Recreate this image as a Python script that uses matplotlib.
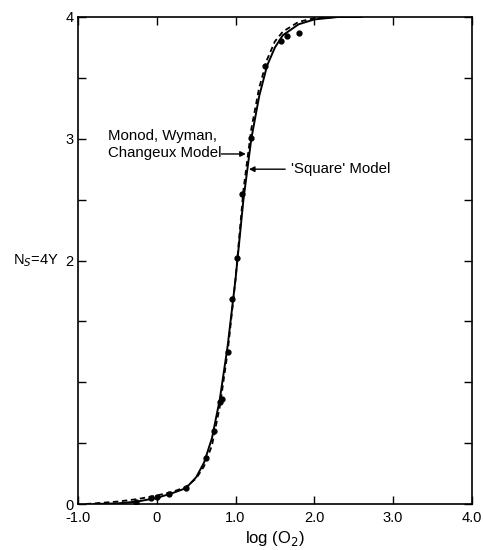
import matplotlib.pyplot as plt

plt.rcParams["font.family"] = ["Liberation Sans", "DejaVu Sans"]

# measured points
obs_x = [-0.27, -0.07, 0.0, 0.16, 0.37, 0.63, 0.73, 0.80, 0.83, 0.90, 0.96, 1.02,
         1.08, 1.20, 1.37, 1.58, 1.65, 1.80]
obs_y = [0.02, 0.05, 0.06, 0.08, 0.13, 0.38, 0.60, 0.84, 0.86, 1.25, 1.68, 2.02,
         2.55, 3.01, 3.60, 3.80, 3.84, 3.87]

# 'Square' model (solid)
sq_x = [-0.8, -0.5, -0.25, 0.0, 0.2, 0.37, 0.5, 0.6, 0.7, 0.8, 0.9, 1.0, 1.1,
        1.2, 1.3, 1.4, 1.5, 1.6, 1.8, 2.0, 2.3, 2.6]
sq_y = [0.0, 0.005, 0.02, 0.05, 0.09, 0.13, 0.22, 0.34, 0.54, 0.86, 1.3, 1.85, 2.5,
        3.0, 3.35, 3.6, 3.75, 3.85, 3.94, 3.98, 4.0, 4.0]

# Monod, Wyman, Changeux model (dashed)
mwc_x = [-0.9, -0.5, -0.25, 0.0, 0.2, 0.37, 0.5, 0.6, 0.7, 0.8, 0.9, 1.0, 1.1,
         1.2, 1.3, 1.4, 1.5, 1.6, 1.8, 2.0, 2.3]
mwc_y = [0.0, 0.02, 0.04, 0.07, 0.1, 0.14, 0.21, 0.31, 0.48, 0.8, 1.25, 1.85, 2.58,
         3.08, 3.42, 3.65, 3.8, 3.88, 3.96, 3.99, 4.0]

xticks = [-1, 0, 1, 2, 3, 4]
xlabels = ["-1.0", "0", "1.0", "2.0", "3.0", "4.0"]
yticks = [0, 0.5, 1, 1.5, 2, 2.5, 3, 3.5, 4]
ylabels = ["0", "", "", "", "2", "", "3", "", "4"]

fig = plt.figure(figsize=(4.83, 5.5), dpi=100)
ax = fig.add_axes([0.1615, 0.0836, 0.8155, 0.8855])

ax.plot(sq_x, sq_y, color="black", lw=1.4)
ax.plot(mwc_x, mwc_y, color="black", lw=1.3, ls=(0, (3, 2)))
ax.plot(obs_x, obs_y, "o", color="black", ms=3.5)

ax.set_xlim(-1, 4)
ax.set_ylim(0, 4)
ax.set_xticks(xticks)
ax.set_xticklabels(xlabels)
ax.set_yticks(yticks)
ax.set_yticklabels(ylabels)
ax.tick_params(direction="in", length=6, width=1, top=True, right=True,
               labelsize=10.5, pad=5)
ax.tick_params(axis="y", pad=3)
for s in ax.spines.values():
    s.set_linewidth(1.2)

ax.set_xlabel("log (O$_2$)", fontsize=12, labelpad=3)
ax.text(-0.048, 0.5, "N$_S$=4Y", transform=ax.transAxes, ha="right", va="center",
        fontsize=10.5)

ax.text(-0.62, 2.95, "Monod, Wyman,\nChangeux Model", ha="left", va="center",
        fontsize=10.8, linespacing=1.25)
ax.annotate("", xy=(1.13, 2.875), xytext=(0.82, 2.875),
            arrowprops=dict(arrowstyle="-|>", color="black", lw=1, mutation_scale=8,
                            shrinkA=0, shrinkB=0))
ax.annotate("", xy=(1.17, 2.75), xytext=(1.63, 2.75),
            arrowprops=dict(arrowstyle="-|>", color="black", lw=1, mutation_scale=8,
                            shrinkA=0, shrinkB=0))
ax.text(1.70, 2.75, "'Square' Model", ha="left", va="center", fontsize=10.8)

fig.savefig("out.png", dpi=100)
